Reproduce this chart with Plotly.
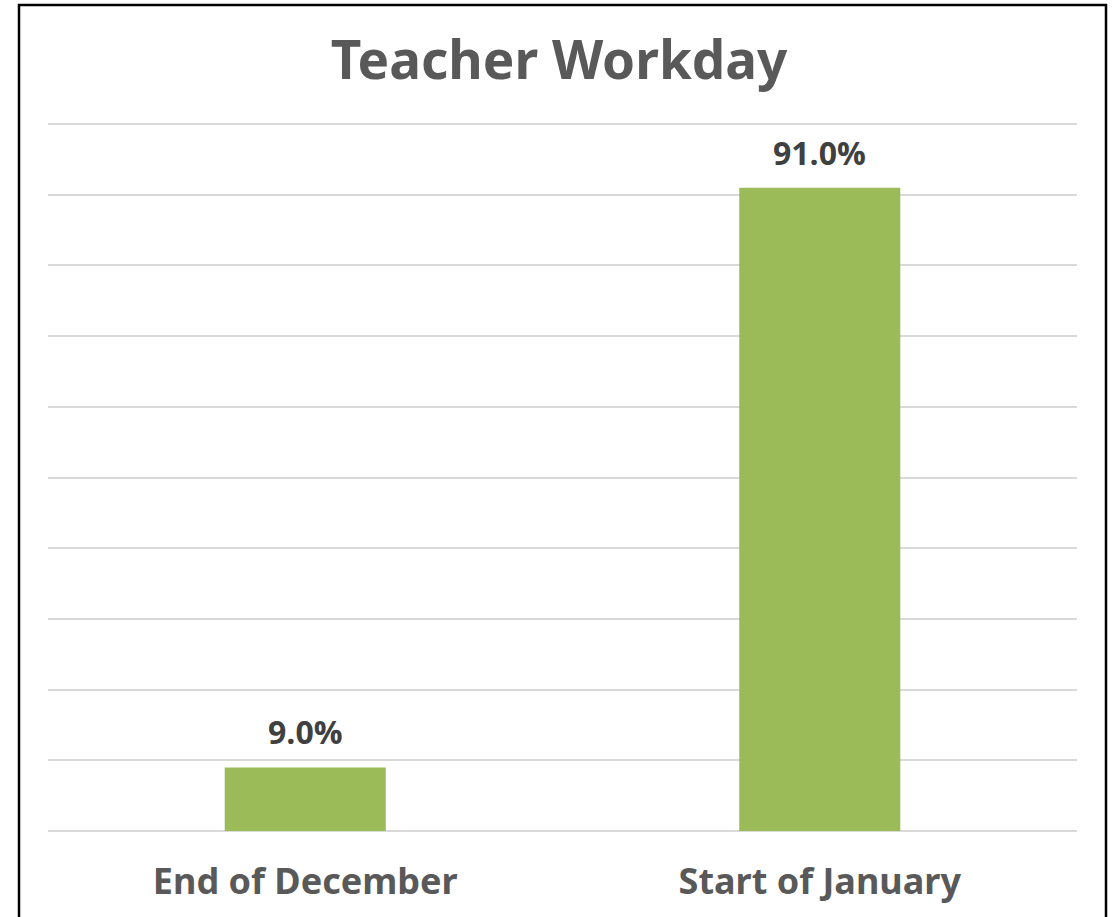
import plotly.graph_objects as go

categories = ["End of December", "Start of January"]
values = [0.09, 0.91]
title_text = "Teacher Workday"

fig = go.Figure()
fig.add_trace(go.Bar(
    x=categories,
    y=values,
    marker=dict(color="#9BBB59", line=dict(width=0)),
    width=0.313,
    hoverinfo="skip",
))

for c, v in zip(categories, values):
    fig.add_annotation(x=c, y=v, xref="x", yref="y", text=f"{v:.1%}",
                       showarrow=False, yanchor="bottom", yshift=12,
                       font=dict(family="Open Sans", size=32, color="#404040", weight="bold"))

# plot area: y=0 at 831px, y=1 at 124px; range extends to 1.01 so the top gridline shows
H = 707 * 1.01
top = 831 - H
fig.update_layout(
    width=1118, height=917,
    margin=dict(l=48, r=41, t=top, b=86),
    paper_bgcolor="white", plot_bgcolor="white",
    showlegend=False,
    title=dict(text=title_text, x=0.5, xanchor="center", y=1 - 60 / 917, yanchor="middle",
               font=dict(family="Noto Sans", size=53, color="#595959", weight="bold")),
    xaxis=dict(showgrid=False, showline=False, zeroline=False,
               tickfont=dict(family="Noto Sans", size=36, color="#595959", weight="bold"),
               ticklabelstandoff=26),
    yaxis=dict(range=[0, 1.01], dtick=0.1, showticklabels=False, showgrid=True,
               gridcolor="#D9D9D9", gridwidth=2, zeroline=True,
               zerolinecolor="#D9D9D9", zerolinewidth=2, showline=False),
    shapes=[dict(type="rect", xref="paper", yref="paper",
                 x0=(19 - 48) / 1029, x1=(1106 - 48) / 1029,
                 y0=(831 - 925) / H, y1=(831 - 5) / H,
                 line=dict(color="black", width=2.5), fillcolor="rgba(0,0,0,0)",
                 layer="above")],
)

fig.write_html("out.html", config={"displayModeBar": False},
               post_script="document.body.style.margin='0';")
